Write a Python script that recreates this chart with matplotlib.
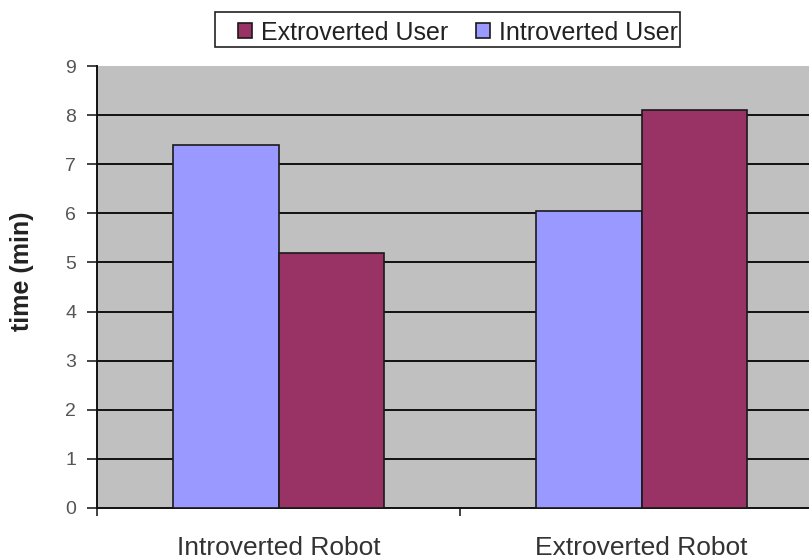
import matplotlib
matplotlib.use("Agg")
import matplotlib.pyplot as plt
from matplotlib.patches import Rectangle
import numpy as np

categories = ["Introverted Robot", "Extroverted Robot"]
introverted_user = [7.4, 6.05]
extroverted_user = [5.2, 8.1]
yticks = list(range(0, 10))

plt.rcParams['font.family'] = ['Liberation Sans', 'DejaVu Sans']

W, H = 809, 559
fig = plt.figure(figsize=(W/100, H/100), dpi=100)
ax = fig.add_axes([97/W, 51/H, 726/W, 442/H])
ax.set_facecolor('#C0C0C0')

x = np.arange(len(categories))
w = 0.29
b1 = ax.bar(x - w/2, introverted_user, w, color='#9999FF', edgecolor='#1a1a1a', linewidth=1.2, label='Introverted User', zorder=3)
b2 = ax.bar(x + w/2, extroverted_user, w, color='#993366', edgecolor='#1a1a1a', linewidth=1.2, label='Extroverted User', zorder=3)

ax.set_xlim(-0.5, 1.5)
ax.set_ylim(0, 9)
ax.set_yticks(yticks)
for yv in yticks[1:-1]:
    ax.axhline(yv, color='#111111', linewidth=1.4, zorder=1)

ax.set_xticks([-0.5, 0.5, 1.5])
ax.set_xticklabels(['', '', ''])
ax.set_xticks(x, minor=True)
ax.set_xticklabels(categories, minor=True, fontsize=19, color='#333333')
ax.tick_params(axis='x', which='minor', length=0, pad=20)
ax.tick_params(axis='x', which='major', length=6, width=1.2, direction='out', color='#222222')
ax.tick_params(axis='y', length=7, width=1.2, direction='out', labelsize=14, labelcolor='#555555', pad=8, color='#222222')

for s in ['top', 'right']:
    ax.spines[s].set_visible(False)
ax.spines['left'].set_linewidth(1.4)
ax.spines['bottom'].set_linewidth(1.4)
ax.spines['left'].set_color('#111111')
ax.spines['bottom'].set_color('#111111')

ax.set_ylabel('time (min)', fontsize=18, fontweight='bold', color='#222222')
ax.yaxis.set_label_coords((34 - 97) / 726, (508 - 271) / 442)

# legend frame (Excel style box)
fig.patches.append(Rectangle((215/W, 1 - 47/H), 465/W, 35/H, transform=fig.transFigure,
                             facecolor='white', edgecolor='#222222', linewidth=1.2, zorder=0))
leg = fig.legend(handles=[b2, b1], labels=['Extroverted User', 'Introverted User'],
                 loc='center left', bbox_to_anchor=(238/W, 1 - 32.5/H), ncol=2,
                 fontsize=18, frameon=False, borderpad=0, borderaxespad=0,
                 handlelength=0.56, handleheight=0.56, handletextpad=0.36,
                 columnspacing=1.1)
for t in leg.get_texts():
    t.set_color('#222222')

fig.savefig('out.png', dpi=100)
